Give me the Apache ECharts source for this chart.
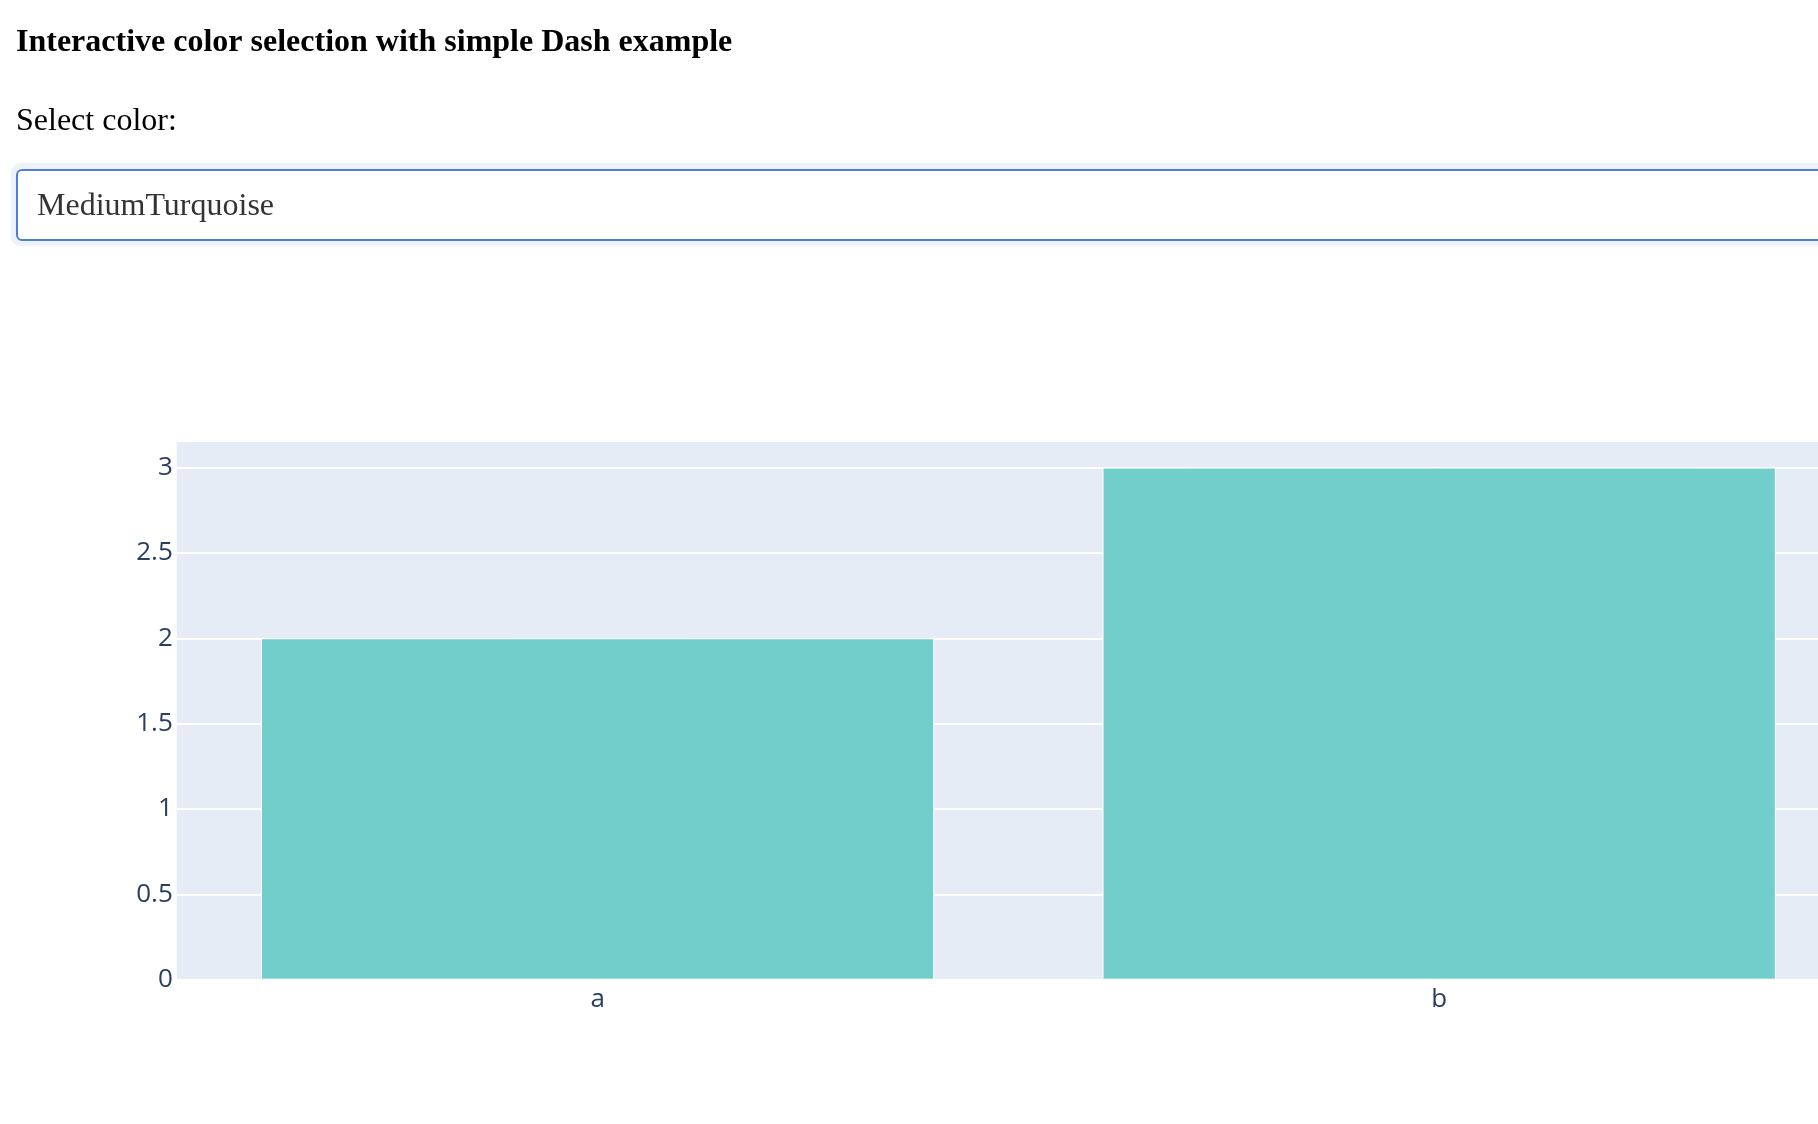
<!DOCTYPE html>
<html>
<head>
<meta charset="utf-8">
<script src="https://cdn.jsdelivr.net/npm/echarts@6/dist/echarts.min.js"></script>
<style>
html,body{margin:0;padding:0;background:#fff;}
#chart{width:1818px;height:1124px;}
</style>
</head>
<body>
<div id="chart"></div>
<script>
var pageTitle = 'Interactive color selection with simple Dash example';
var selectLabel = 'Select color:';
var selectedColorName = 'MediumTurquoise';
var categories = ['a', 'b'];
var values = [2, 3];
var yMin = 0;
var yMax = 3.1579;
var yInterval = 0.5;

var chart = echarts.init(document.getElementById('chart'), null, {renderer: 'canvas'});
var serif = '"Liberation Serif", "Times New Roman", serif';
var option = {
  backgroundColor: '#ffffff',
  animation: false,
  graphic: [
    {type: 'text', left: 16, top: 27, z: 10,
     style: {text: pageTitle, font: 'bold 32px ' + serif, fill: '#000'}},
    {type: 'text', left: 16, top: 106, z: 10,
     style: {text: selectLabel, font: '32px ' + serif, fill: '#000'}},
    {type: 'rect', shape: {x: 11, y: 163, width: 1900, height: 83, r: 9}, z: 1,
     style: {fill: '#edf2fb'}},
    {type: 'rect', shape: {x: 17, y: 170, width: 1900, height: 70, r: 5}, z: 2,
     style: {fill: '#ffffff', stroke: '#4b80d4', lineWidth: 2}},
    {type: 'text', left: 37, top: 191, z: 10,
     style: {text: selectedColorName, font: '32px ' + serif, fill: '#333333'}}
  ],
  grid: {
    left: 176.8, right: -42, top: 440.6, bottom: 144.3,
    show: true, backgroundColor: '#E5ECF6', borderWidth: 0,
    containLabel: false, outerBoundsMode: 'none'
  },
  xAxis: {
    type: 'category', data: categories,
    axisLine: {show: false}, axisTick: {show: false},
    axisLabel: {color: '#2a3f5f', fontSize: 26, fontFamily: 'Open Sans', margin: 7},
    splitLine: {show: false}
  },
  yAxis: {
    type: 'value', min: yMin, max: yMax, interval: yInterval,
    axisLine: {show: false}, axisTick: {show: false},
    axisLabel: {color: '#2a3f5f', fontSize: 26, fontFamily: 'Open Sans', margin: 4, showMaxLabel: false},
    splitLine: {show: true, lineStyle: {color: '#ffffff', width: 2}}
  },
  series: [{
    type: 'bar', data: values, barCategoryGap: '20%',
    itemStyle: {color: '#72cecb', borderColor: '#ffffff', borderWidth: 1}
  }]
};
chart.setOption(option);
</script>
</body>
</html>
